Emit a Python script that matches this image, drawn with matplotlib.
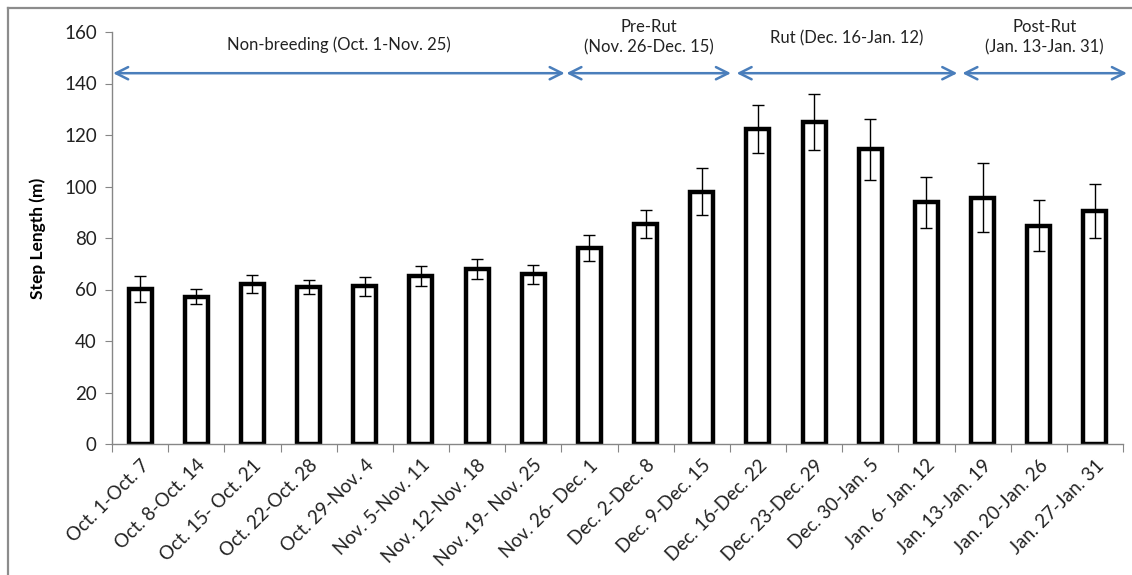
import matplotlib
matplotlib.use("Agg")
import matplotlib.pyplot as plt
from matplotlib.lines import Line2D

plt.rcParams['font.family'] = ['Lato', 'DejaVu Sans']

periods = ["Oct. 1-Oct. 7", "Oct. 8-Oct. 14", "Oct. 15- Oct. 21", "Oct. 22-Oct. 28",
           "Oct. 29-Nov. 4", "Nov. 5-Nov. 11", "Nov. 12-Nov. 18", "Nov. 19- Nov. 25",
           "Nov. 26- Dec. 1", "Dec. 2-Dec. 8", "Dec. 9-Dec. 15", "Dec. 16-Dec. 22",
           "Dec. 23-Dec. 29", "Dec. 30-Jan. 5", "Jan. 6- Jan. 12", "Jan. 13-Jan. 19",
           "Jan. 20-Jan. 26", "Jan. 27-Jan. 31"]
step_length = [60.2, 57.2, 62.2, 61.0, 61.3, 65.4, 68.0, 65.9, 76.0,
               85.5, 98.0, 122.5, 125.0, 114.4, 93.8, 95.6, 84.7, 90.5]
std_err = [5.0, 2.9, 3.6, 2.8, 3.7, 3.9, 3.9, 3.8, 5.0,
           5.5, 9.0, 9.3, 11.0, 11.7, 10.0, 13.4, 9.9, 10.4]

season_labels = ["Non-breeding (Oct. 1-Nov. 25)", "Pre-Rut\n(Nov. 26-Dec. 15)",
                 "Rut (Dec. 16-Jan. 12)", "Post-Rut\n(Jan. 13-Jan. 31)"]
season_start = [-0.48, 7.59, 10.62, 14.64]
season_end = [7.56, 10.52, 14.55, 17.57]
season_text_y = [155, 158, 157.7, 158]

W, H = 1132, 575
fig = plt.figure(figsize=(W / 100, H / 100), dpi=100)
ax = fig.add_axes([112 / W, 1 - 444 / H, (1123 - 112) / W, (444 - 32) / H])

x = list(range(len(periods)))
ax.bar(x, step_length, width=0.41, color='white', edgecolor='black', linewidth=3.2, zorder=2)
ax.errorbar(x, step_length, yerr=std_err, fmt='none', ecolor='black',
            elinewidth=1.0, capsize=4, capthick=1.0, zorder=3)

ax.set_xlim(-0.5, len(periods) - 0.5)
ax.set_ylim(0, 160)
ax.set_yticks(range(0, 161, 20))
ax.tick_params(axis='y', labelsize=13.5, length=5, color='#868686', pad=6, labelcolor='#222222')

ax.set_xticks([i - 0.5 for i in range(len(periods) + 1)])
ax.set_xticklabels([])
ax.set_xticks(x, minor=True)
ax.set_xticklabels(periods, minor=True, rotation=45, ha='right', rotation_mode='anchor', fontsize=13.5)
ax.tick_params(axis='x', which='major', length=6, color='#868686')
ax.tick_params(axis='x', which='minor', length=0, pad=9, labelcolor='#222222')

for s in ['top', 'right']:
    ax.spines[s].set_visible(False)
for s in ['left', 'bottom']:
    ax.spines[s].set_color('#868686')
    ax.spines[s].set_linewidth(1.0)

ax.set_ylabel("Step Length (m)", fontsize=12.5, fontweight='bold')
ax.yaxis.set_label_coords((46 - 112) / 1011, 0.5)

arrow_color = '#4a7ebb'
for lab, xs, xe, ty in zip(season_labels, season_start, season_end, season_text_y):
    ax.annotate('', xy=(xe, 144), xytext=(xs, 144),
                arrowprops=dict(arrowstyle='<->', color=arrow_color, lw=1.8,
                                mutation_scale=22, shrinkA=0, shrinkB=0),
                annotation_clip=False)
    ax.text((xs + xe) / 2, ty, lab, ha='center', va='center', fontsize=12,
            color='#222222', linespacing=1.35, clip_on=False)

# outer frame lines
fig.add_artist(Line2D([8 / W, 8 / W], [0, 1 - 8 / H], color='#8c8c8c', lw=1.6, transform=fig.transFigure))
fig.add_artist(Line2D([8 / W, 1], [1 - 8 / H, 1 - 8 / H], color='#8c8c8c', lw=1.6, transform=fig.transFigure))

fig.savefig('out.png', dpi=100)
